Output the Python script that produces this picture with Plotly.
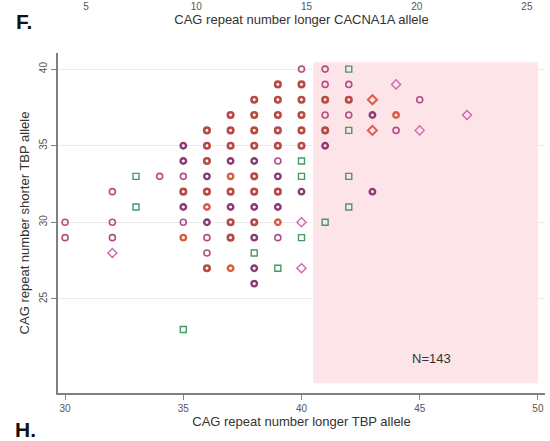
import plotly.graph_objects as go

# TBP allele repeat lengths (longer allele on x, shorter allele on y), grouped by marker style
red_x = [39, 40, 38, 39, 40, 41, 42, 37, 38, 39, 40, 36, 37, 38, 39, 40, 41,
         36, 37, 38, 39, 40, 36, 38, 35, 36, 37, 38, 39, 37, 38, 37, 36]
red_y = [39, 39, 38, 38, 38, 38, 38, 37, 37, 37, 37, 36, 36, 36, 36, 36, 36,
         35, 35, 35, 35, 35, 34, 33, 32, 32, 32, 32, 32, 30, 30, 29, 27]

purple_x = [43, 35, 41, 35, 37, 38, 36, 39, 40, 43, 35, 37, 38, 39, 36, 38, 38, 38]
purple_y = [37, 35, 35, 34, 34, 34, 33, 33, 32, 32, 31, 31, 31, 31, 30, 29, 27, 26]

magenta_x = [40, 41, 41, 42, 45, 41, 42, 44, 39, 34, 35, 32, 30, 32, 35,
             30, 32, 36, 39, 36]
magenta_y = [40, 40, 39, 39, 38, 37, 37, 36, 34, 33, 33, 32, 30, 30, 30,
             29, 29, 29, 29, 28]

orange_x = [44, 37, 36, 39, 35, 37]
orange_y = [37, 33, 31, 30, 29, 27]

orange_dia_x = [43, 43]
orange_dia_y = [38, 36]

pink_dia_x = [44, 47, 45, 40, 40, 32]
pink_dia_y = [39, 37, 36, 30, 27, 28]

green_x = [42, 42, 40, 33, 40, 42, 33, 42, 41, 40, 38, 39, 35]
green_y = [40, 36, 34, 33, 33, 33, 31, 31, 30, 29, 28, 27, 23]

x_ticks = [30, 35, 40, 45, 50]
y_ticks = [25, 30, 35, 40]
upper_ticks = [5, 10, 15, 20, 25]

FONT = "Liberation Sans, Arial, sans-serif"

groups = [
    (red_x, red_y, "circle-open", "#b84a44", 5.5, 2.6),
    (purple_x, purple_y, "circle-open", "#8a3a72", 5.5, 2.4),
    (magenta_x, magenta_y, "circle-open", "#b44e82", 6, 1.6),
    (orange_x, orange_y, "circle-open", "#d95c40", 5.5, 2.4),
    (orange_dia_x, orange_dia_y, "diamond-open", "#dc5e46", 7, 2.0),
    (pink_dia_x, pink_dia_y, "diamond-open", "#d366ad", 7, 1.4),
    (green_x, green_y, "square-open", "#439b65", 6, 1.4),
]

fig = go.Figure()
for xs, ys, sym, col, size, lw in groups:
    fig.add_trace(go.Scatter(
        x=xs, y=ys, mode="markers",
        marker=dict(symbol=sym, size=size, color=col, line=dict(color=col, width=lw)),
        showlegend=False, hoverinfo="skip",
    ))

# carries the upper (CACNA1A) axis so it gets drawn; holds no visible points
fig.add_trace(go.Scatter(x=upper_ticks, y=[None] * len(upper_ticks), xaxis="x2", yaxis="y",
                         mode="markers", showlegend=False, hoverinfo="skip"))

# shaded region: longer allele in the expanded range
fig.add_shape(type="rect", xref="x", yref="y", x0=40.5, x1=50, y0=19.5, y1=40.45,
              fillcolor="#fde4e8", line=dict(width=0), layer="between")

fig.add_annotation(x=45.5, y=21.1, xref="x", yref="y", text="N=143", showarrow=False,
                   font=dict(family=FONT, size=13, color="#333333"))

W, H = 550, 441
fig.add_annotation(x=24 / W, y=1 - 22 / H, xref="paper", yref="paper", text="<b>F.</b>",
                   xanchor="center", yanchor="middle", showarrow=False,
                   font=dict(family=FONT, size=21, color="#111111"))
fig.add_annotation(x=25 / W, y=1 - 429 / H, xref="paper", yref="paper", text="<b>H.</b>",
                   xanchor="center", yanchor="middle", showarrow=False,
                   font=dict(family=FONT, size=21, color="#111111"))

x_dom = [58 / W, 545 / W]
y_dom = [1 - 393 / H, 1 - 53 / H]

fig.update_layout(
    width=W, height=H,
    margin=dict(l=0, r=0, t=0, b=0),
    paper_bgcolor="white", plot_bgcolor="white",
    font=dict(family=FONT, color="#444444"),
    xaxis=dict(
        domain=x_dom, range=[29.7, 50.3], tickvals=x_ticks,
        showgrid=False, zeroline=False,
        showline=True, linecolor="#808080", linewidth=1.5,
        ticks="outside", ticklen=5, tickcolor="#808080", tickwidth=1.2,
        tickfont=dict(size=10, color="#555555"),
        title=dict(text="CAG repeat number longer TBP allele", standoff=2,
                   font=dict(size=13, color="#333333")),
    ),
    yaxis=dict(
        domain=y_dom, range=[18.86, 41.05], tickvals=y_ticks, tickangle=-90,
        showgrid=True, gridcolor="#ebebeb", gridwidth=1, zeroline=False,
        showline=True, linecolor="#808080", linewidth=1.5,
        ticks="outside", ticklen=5, tickcolor="#808080", tickwidth=1.2,
        tickfont=dict(size=10, color="#555555"),
        title=dict(text="CAG repeat number shorter TBP allele", standoff=6,
                   font=dict(size=13, color="#333333")),
    ),
    xaxis2=dict(
        domain=x_dom, range=[3.73, 25.82], tickvals=upper_ticks,
        anchor="free", position=1, side="bottom", overlaying="x",
        showgrid=False, zeroline=False, showline=False, ticks="",
        ticklabelstandoff=-1,
        tickfont=dict(size=10, color="#555555"),
        title=dict(text="CAG repeat number longer CACNA1A allele", standoff=0,
                   font=dict(size=13, color="#333333")),
    ),
)

fig.write_html("out.html")
